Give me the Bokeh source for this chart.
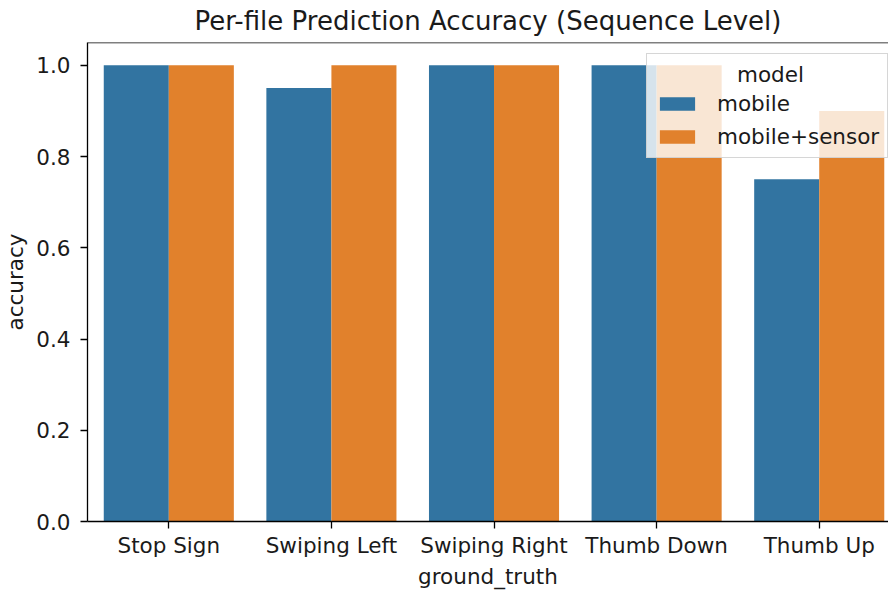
from bokeh.plotting import figure
from bokeh.models import (ColumnDataSource, Range1d, FixedTicker, Legend, LegendItem,
                          Span)
from bokeh.transform import dodge
from bokeh.embed import file_html
from bokeh.resources import INLINE

categories = ["Stop Sign", "Swiping Left", "Swiping Right", "Thumb Down", "Thumb Up"]
mobile = [1.0, 0.95, 1.0, 1.0, 0.75]
mobile_sensor = [1.0, 1.0, 1.0, 1.0, 0.90]
series_names = ["mobile", "mobile+sensor"]
legend_title = "model"
colors = ["#3274a1", "#e1812c"]
y_ticks = [0.0, 0.2, 0.4, 0.6, 0.8, 1.0]

FONT = "DejaVu Sans"
TXT = "#1a1a1a"
FS = "21.5px"

src = ColumnDataSource(dict(x=list(range(len(categories))), cat=categories,
                            mobile=mobile, sensor=mobile_sensor))

Y0, Y1 = 0.0, 1.05
p = figure(width=888, height=591, output_backend="svg", toolbar_location=None,
           x_range=Range1d(-0.5, 4.426), y_range=Range1d(Y0, Y1),
           title="Per-file Prediction Accuracy (Sequence Level)",
           min_border_left=87, min_border_right=0, min_border_top=42, min_border_bottom=70)

r1 = p.vbar(x=dodge("x", -0.2, range=p.x_range), top="mobile", width=0.4, source=src,
            fill_color=colors[0], line_color=None)
r2 = p.vbar(x=dodge("x", 0.2, range=p.x_range), top="sensor", width=0.4, source=src,
            fill_color=colors[1], line_color=None)

p.title.align = "center"
p.title.vertical_align = "top"
p.title.text_font = FONT
p.title.text_font_size = "26px"
p.title.text_font_style = "normal"
p.title.text_color = TXT
p.title.standoff = 9

p.xgrid.visible = False
p.ygrid.visible = False
p.outline_line_color = None
p.background_fill_color = "white"
p.border_fill_color = "white"

for ax in (p.xaxis[0], p.yaxis[0]):
    ax.axis_line_color = "black"
    ax.axis_line_width = 1.3
    ax.major_tick_line_color = "black"
    ax.major_tick_line_width = 1.3
    ax.major_tick_out = 7
    ax.major_tick_in = 0
    ax.minor_tick_line_color = None
    ax.major_label_text_font = FONT
    ax.major_label_text_font_size = FS
    ax.major_label_text_color = TXT
    ax.axis_label_text_font = FONT
    ax.axis_label_text_font_size = FS
    ax.axis_label_text_font_style = "normal"
    ax.axis_label_text_color = TXT
    ax.axis_label_text_line_height = 1.0

p.xaxis.ticker = FixedTicker(ticks=list(range(len(categories))))
p.xaxis.major_label_overrides = {i: c for i, c in enumerate(categories)}
p.xaxis.axis_label = "ground_truth"
p.xaxis.major_label_standoff = 4
p.xaxis.axis_label_standoff = 3

p.yaxis.ticker = FixedTicker(ticks=y_ticks)
p.yaxis.major_label_overrides = {t: f"{t:.1f}" for t in y_ticks}
p.yaxis.axis_label = "accuracy"
p.yaxis.major_label_standoff = 10
p.yaxis.axis_label_standoff = 5

# top spine
p.add_layout(Span(location=Y1, dimension="width", line_color="black", line_width=1.3))

# non-breaking spaces push the legend title towards the centre, as in the reference
legend = Legend(items=[LegendItem(label=series_names[0], renderers=[r1]),
                       LegendItem(label=series_names[1], renderers=[r2])],
                location=(559, 363), title="\u00a0" * 12 + legend_title,
                title_text_font=FONT, title_text_font_size=FS, title_text_color=TXT,
                title_text_font_style="normal", title_standoff=4,
                label_text_font=FONT, label_text_font_size=FS, label_text_color=TXT,
                glyph_width=44, glyph_height=17, label_standoff=18, label_height=23,
                spacing=8, padding=8, margin=0,
                background_fill_color="white", background_fill_alpha=0.8,
                border_line_color="#cccccc", border_line_alpha=0.8, border_line_width=1)
p.add_layout(legend)

open("out.html", "w").write(file_html(p, INLINE))
